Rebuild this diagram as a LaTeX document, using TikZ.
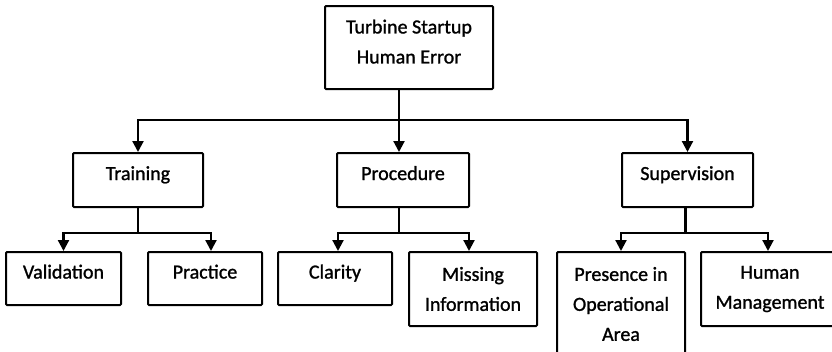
\documentclass[tikz,border=0pt]{standalone}
\usepackage{fontspec}
\setmainfont[FakeBold=1.2,AutoFakeBold=1.2]{Carlito}
\usetikzlibrary{arrows.meta,positioning}

\begin{document}
\begin{tikzpicture}[x=1pt,y=-1pt]
	\tikzstyle{Box}    = [draw, line width=2pt, rounded corners=1pt, align=center, inner sep=2pt, font=\fontsize{20}{30}\selectfont\bfseries]
	\tikzstyle{Single} = [text height=10pt, text depth=10pt]
	\tikzstyle{Link}   = [line width=2.2pt]
	\tikzstyle{Arrow}  = [Link, -{Triangle[width=11pt,length=11pt]}]

	\useasboundingbox (0,0) rectangle (832,351);
	\clip (0,0) rectangle (832,351);

	% root
	\node (top) at (409, 47.5) [Box][minimum width=168pt, minimum height=83pt] {Turbine Startup\\Human Error\rule[-12pt]{0pt}{0pt}};

	% causes
	\node (tra) at (138, 180) [Box][Single][minimum width=130pt, minimum height=54pt] {Training};
	\node (pro) at (403, 180) [Box][Single][minimum width=132pt, minimum height=54pt] {Procedure};
	\node (sup) at (687.5, 180) [Box][Single][minimum width=131pt, minimum height=54pt] {Supervision};

	% sub causes
	\node (val) at (63.5, 278.5) [Box][Single][minimum width=115pt, minimum height=53pt] {Validation};
	\node (pra) at (205, 278.5) [Box][Single][minimum width=114pt, minimum height=53pt] {Practice};
	\node (cla) at (335, 278.5) [Box][Single][minimum width=114pt, minimum height=53pt] {Clarity};
	\node (mis) at (473, 289) [Box][minimum width=128pt, minimum height=74pt] {Missing\\Information};
	\node (pre) at (621, 304) [Box][minimum width=128pt, minimum height=104pt] {Presence in\\Operational\\Area};
	\node (hum) at (770, 289) [Box][minimum width=138pt, minimum height=74pt] {Human\\Management};

	\draw [Link] ([xshift=-10pt]top.south) -- ++(0,30) coordinate (hub);
	\draw [Arrow] (hub) -| (tra.north);
	\draw [Arrow] (hub) -| (sup.north);
	\draw [Arrow] (hub) -- (hub |- pro.north);

	\draw [Link] (tra.south) -- ++(0,25) coordinate (traBus);
	\draw [Arrow] (traBus) -| (val.north);
	\draw [Arrow] (traBus) -| ([xshift=6pt]pra.north);

	\draw [Link] ([xshift=-4pt]pro.south) -- ++(0,25) coordinate (proBus);
	\draw [Arrow] (proBus) -| ([xshift=3pt]cla.north);
	\draw [Arrow] (proBus) -| ([xshift=-4pt]mis.north);

	\draw [Link] ([xshift=-2pt]sup.south) -- ++(0,25) coordinate (supBus);
	\draw [Arrow] (supBus) -| (pre.north);
	\draw [Arrow] (supBus) -| ([xshift=-2pt]hum.north);
\end{tikzpicture}
\end{document}
